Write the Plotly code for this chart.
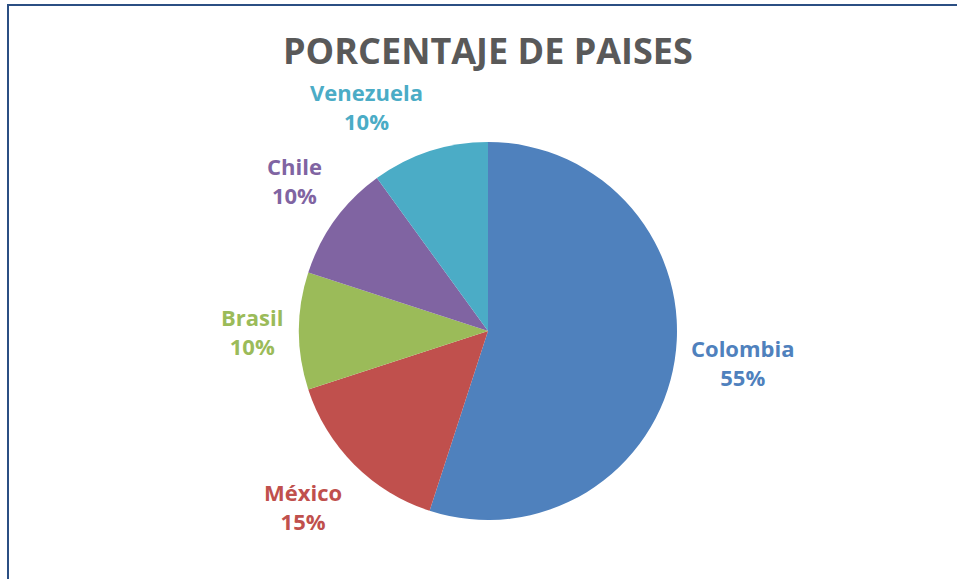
import math
import plotly.graph_objects as go

categories = ["Colombia", "México", "Brasil", "Chile", "Venezuela"]
values = [55, 15, 10, 10, 10]
colors = ["#4F81BD", "#C0504D", "#9BBB59", "#8064A2", "#4BACC6"]
title_text = "PORCENTAJE DE PAISES"

W, H = 957, 579
CX, CY, R = 488, 331, 189  # pie centre / radius in px (layout)
GAP = 14
FONT = "Open Sans"

fig = go.Figure(go.Pie(
    labels=categories, values=values, sort=False, direction="clockwise",
    rotation=0, marker=dict(colors=colors, line=dict(width=0)),
    textinfo="none", hoverinfo="label+percent", showlegend=False,
    domain=dict(x=[(CX - R) / W, (CX + R) / W],
                y=[(H - CY - R) / H, (H - CY + R) / H]),
))

total = sum(values)
cum = 0
annotations = []
for cat, v, col in zip(categories, values, colors):
    mid = (cum + v / 2) / total * 2 * math.pi
    cum += v
    dx, dy = math.sin(mid), math.cos(mid)  # dy positive = up
    px = CX + (R + GAP) * dx
    py = (H - CY) + (R + GAP) * dy
    xa = "left" if dx > 0.25 else ("right" if dx < -0.25 else "center")
    ya = "bottom" if dy > 0.25 else ("top" if dy < -0.25 else "middle")
    annotations.append(dict(
        x=px / W, y=py / H, xref="paper", yref="paper", showarrow=False,
        xanchor=xa, yanchor=ya, align="center",
        text=f"<b>{cat}</b><br><b>{round(v / total * 100)}%</b>",
        font=dict(family=FONT, size=22, color=col),
    ))

annotations.append(dict(
    x=CX / W, y=1 - 50 / H, xref="paper", yref="paper", showarrow=False,
    xanchor="center", yanchor="middle",
    text=f"<b>{title_text}</b>",
    font=dict(family=FONT, size=36, color="#595959"),
))

fig.update_layout(
    width=W, height=H, margin=dict(l=0, r=0, t=0, b=0),
    paper_bgcolor="white", plot_bgcolor="white",
    annotations=annotations,
    shapes=[dict(type="rect", xref="paper", yref="paper",
                 x0=8 / W, x1=1.02, y0=-0.02, y1=1 - 5 / H,
                 line=dict(color="#2B4F83", width=2))],
)

fig.write_html(
    "out.html",
    config={"displayModeBar": False},
    post_script="document.body.style.margin='0';document.body.style.overflow='hidden';",
)
